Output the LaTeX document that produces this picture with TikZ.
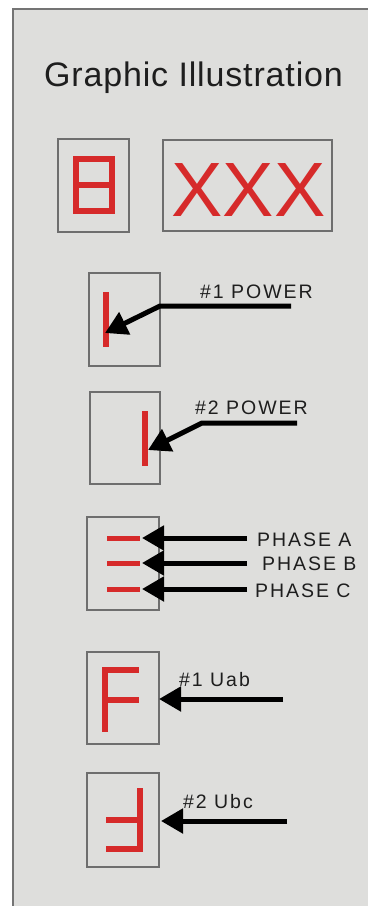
\documentclass[tikz,border=0pt]{standalone}
\usepackage{fontspec}
\setmainfont{Liberation Sans}
\usetikzlibrary{arrows.meta}
\definecolor{panelbg}{HTML}{DEDEDC}
\definecolor{panelline}{HTML}{747474}
\definecolor{boxline}{HTML}{6E6E6E}
\definecolor{segred}{HTML}{D62A2A}
\definecolor{inkc}{HTML}{1E1E1E}
\newfontfamily\labelfont[LetterSpace=10]{Liberation Sans}
\newfontfamily\titlefont[LetterSpace=2.5]{Liberation Sans}
\tikzset{
  dispbox/.style={draw=boxline, line width=1.4pt, fill=panelbg, inner sep=0pt},
  lbl/.style={anchor=base west, inner sep=0pt, text=inkc, font=\labelfont\fontsize{19.5}{20}\selectfont},
  pointer/.style={draw=black, line width=5pt, -{Triangle[length=22pt,width=24pt]}},
  seg/.style={fill=segred}
}
\begin{document}
\begin{tikzpicture}[x=1pt,y=-1pt]
\useasboundingbox (0,0) rectangle (368,906);
\fill[white] (0,0) rectangle (368,906);
\fill[panelbg] (13,9) rectangle (368,906);
\draw[panelline, line width=2pt] (13,906) -- (13,9) -- (368,9);
% title
\node[anchor=base, inner sep=0pt, text=inkc, font=\titlefont\fontsize{34}{36}\selectfont] (title) at (193.5,86.5) {Graphic Illustration};
% row 1
\node[dispbox, minimum width=71pt, minimum height=93pt] (boxA) at (93.5,185.5) {};
\draw[segred, line width=6pt] (76,159) rectangle (112,211);
\draw[segred, line width=6pt] (76,185) -- (112,185);
\node[dispbox, minimum width=169pt, minimum height=91pt] (boxB) at (247.5,185.5) {};
\node[anchor=base, inner sep=0pt, text=segred, font=\fontsize{77}{80}\selectfont] (xxx) at (248.5,216) {XXX};
% row 2
\node[dispbox, minimum width=71pt, minimum height=93pt] (box1) at (124.5,319.5) {};
\fill[seg] (103,292) rectangle (109,347);
\coordinate (p1s) at (291,306);
\coordinate (p1k) at (160,306);
\coordinate (p1t) at (105,333);
\draw[pointer] (p1s) -- (p1k) -- (p1t);
\node[lbl] (l1) at (200,298) {\#1 POWER};
% row 3
\node[dispbox, minimum width=70pt, minimum height=92pt] (box2) at (125,438) {};
\fill[seg] (142,411) rectangle (148,466);
\coordinate (p2s) at (297,423);
\coordinate (p2k) at (202,423);
\coordinate (p2t) at (148,450);
\draw[pointer] (p2s) -- (p2k) -- (p2t);
\node[lbl] (l2) at (195,414) {\#2 POWER};
% row 4
\node[dispbox, minimum width=72pt, minimum height=93pt] (box3) at (123,563.5) {};
\fill[seg] (107,535.5) rectangle (140,540.5);
\fill[seg] (107,560.5) rectangle (140,565.5);
\fill[seg] (107,586.5) rectangle (140,591.5);
\coordinate (pas) at (247,538);
\coordinate (pat) at (142,538);
\coordinate (pbs) at (247,563);
\coordinate (pbt) at (142,563);
\coordinate (pcs) at (247,589);
\coordinate (pct) at (142,589);
\draw[pointer] (pas) -- (pat);
\draw[pointer] (pbs) -- (pbt);
\draw[pointer] (pcs) -- (pct);
\node[lbl] (la) at (257,546) {PHASE A};
\node[lbl] (lb) at (262,570) {PHASE B};
\node[lbl] (lc) at (255,597) {PHASE C};
% row 5
\node[dispbox, minimum width=72pt, minimum height=92pt] (box4) at (123,698) {};
\fill[seg] (102,667) rectangle (108,732);
\fill[seg] (102,667) rectangle (139,673);
\fill[seg] (102,697) rectangle (139,703);
\coordinate (u1s) at (283,699);
\coordinate (u1t) at (159,699);
\draw[pointer] (u1s) -- (u1t);
\node[lbl] (lu1) at (179,686) {\#1 Uab};
% row 6
\node[dispbox, minimum width=72pt, minimum height=94pt] (box5) at (123,820) {};
\fill[seg] (137,788) rectangle (143,852);
\fill[seg] (106,817) rectangle (143,823);
\fill[seg] (106,846) rectangle (143,852);
\coordinate (u2s) at (287,821);
\coordinate (u2t) at (161,821);
\draw[pointer] (u2s) -- (u2t);
\node[lbl] (lu2) at (183,808) {\#2 Ubc};
\end{tikzpicture}
\end{document}
